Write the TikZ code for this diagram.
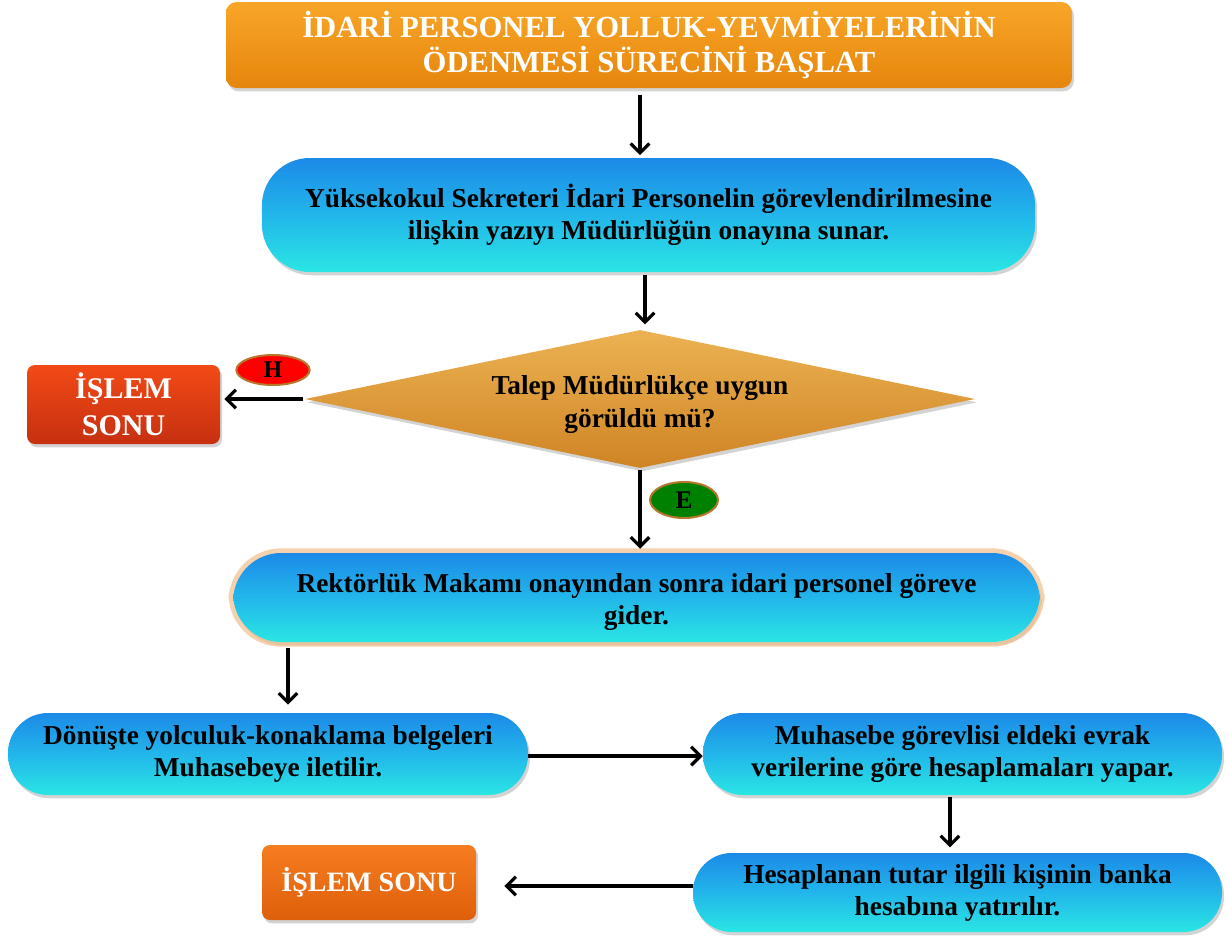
\documentclass[tikz,border=0pt]{standalone}
\usepackage{fontspec}
\setmainfont{Liberation Serif}
\usetikzlibrary{arrows.meta,shapes.geometric,shadows,calc}
\definecolor{titletop}{HTML}{F8A628}
\definecolor{titlebot}{HTML}{E6860C}
\definecolor{pilltop}{HTML}{1C8AE8}
\definecolor{pillmid}{HTML}{22B6EA}
\definecolor{pillbot}{HTML}{2AE6E4}
\definecolor{redtop}{HTML}{F24A16}
\definecolor{redbot}{HTML}{C63010}
\definecolor{ortop}{HTML}{F67C20}
\definecolor{orbot}{HTML}{DE600A}
\definecolor{diatop}{HTML}{ECB252}
\definecolor{diabot}{HTML}{CF8424}
\definecolor{ovalborder}{HTML}{B8782C}
\definecolor{glowc}{HTML}{F2BE8A}
\definecolor{egreen}{HTML}{008000}
\begin{document}
\begin{tikzpicture}[x=0.75pt,y=-0.75pt,
  sh/.style={drop shadow={shadow xshift=1.5pt,shadow yshift=-2.5pt,opacity=0.35}},
  pill/.style={rectangle,rounded corners=36pt,top color=pilltop,bottom color=pillbot,middle color=pillmid,
    sh,align=center,font=\fontsize{20.5}{24}\selectfont\bfseries,text=black,inner sep=0pt},
  endbox/.style={rectangle,rounded corners=6pt,sh,align=center,text=white,inner sep=0pt,
    font=\fontsize{22.5}{28}\selectfont\bfseries},
  oval/.style={ellipse,draw=ovalborder,line width=1.5pt,inner sep=0pt,text=black},
  arr/.style={line width=2.6pt,-{Straight Barb[length=7pt,width=14pt,line width=2.4pt]}}
]
\useasboundingbox (0,0) rectangle (1227,935);

\node[rectangle,rounded corners=8pt,top color=titletop,bottom color=titlebot,sh,
  minimum width=634.5pt,minimum height=64.5pt,align=center,text=white,inner sep=0pt,
  font=\fontsize{23}{26.5}\selectfont\bfseries] (title) at (649,45)
  {İDARİ PERSONEL YOLLUK-YEVMİYELERİNİN\\ÖDENMESİ SÜRECİNİ BAŞLAT};

\node[pill,minimum width=580pt,minimum height=85.5pt] (box2) at (648.5,215)
  {Yüksekokul Sekreteri İdari Personelin görevlendirilmesine\\ilişkin yazıyı Müdürlüğün onayına sunar.};

\node[diamond,aspect=4.85,minimum width=502.5pt,minimum height=103.5pt,inner sep=0pt,
  top color=diatop,bottom color=diabot,sh,align=center,text height=48pt,
  font=\fontsize{20.5}{25}\selectfont\bfseries] (dia) at (640,399)
  {Talep Müdürlükçe uygun\\görüldü mü?};

\node[endbox,top color=redtop,bottom color=redbot,minimum width=144.75pt,minimum height=59.25pt] (end1) at (123.5,404.5)
  {İŞLEM\\SONU};

\node[oval,fill=red,minimum width=55pt,minimum height=22.5pt,font=\fontsize{18}{20}\selectfont\bfseries] (h) at (273,370) {H};
\node[oval,fill=egreen,minimum width=51pt,minimum height=27pt,font=\fontsize{19}{21}\selectfont\bfseries] (e) at (684,500) {E};

\node[pill,minimum width=605pt,minimum height=66.75pt,text height=45.5pt,
  preaction={draw=glowc,line width=7pt,draw opacity=0.7}] (box3) at (636.5,597.5)
  {Rektörlük Makamı onayından sonra idari personel göreve\\gider.};

\node[pill,minimum width=390pt,minimum height=61.5pt,rounded corners=30pt] (box4) at (268,754)
  {Dönüşte yolculuk-konaklama belgeleri\\Muhasebeye iletilir.};

\node[pill,minimum width=389.25pt,minimum height=61.5pt,rounded corners=30pt] (box5) at (962.5,754)
  {Muhasebe görevlisi eldeki evrak\\verilerine göre hesaplamaları yapar.};

\node[pill,minimum width=396.75pt,minimum height=59.25pt,rounded corners=29pt] (box6) at (957.5,892.5)
  {Hesaplanan tutar ilgili kişinin banka\\hesabına yatırılır.};

\node[endbox,top color=ortop,bottom color=orbot,minimum width=160.5pt,minimum height=56.25pt,
  font=\fontsize{21}{27}\selectfont\bfseries] (end2) at (369,882.5)
  {İŞLEM SONU};

% connectors
\draw[arr,shorten <=5pt,shorten >=2pt] ([xshift=-6.75pt]title.south) -- ([xshift=-6.75pt]title.south |- box2.north);
\draw[arr,shorten <=2pt,shorten >=4pt] ([xshift=-2.6pt]box2.south) -- ([xshift=-2.6pt]box2.south |- dia.north);
\draw[arr,shorten <=1pt,shorten >=3pt] (dia.west) -- (dia.west -| end1.east);
\draw[arr,shorten <=1pt,shorten >=3pt] (dia.south) -- (dia.south |- box3.north);
\draw[arr,shorten <=4pt,shorten >=6pt] ([xshift=15pt]box4.north |- box3.south) -- ([xshift=15pt]box4.north);
\draw[arr] ([yshift=-1.5pt]box4.east) -- ([yshift=-1.5pt]box5.west);
\draw[arr,shorten <=1.5pt,shorten >=4pt] ([xshift=-9.4pt]box5.south) -- ([xshift=-9.4pt]box5.south |- box6.north);
\draw[arr,shorten >=21pt] ([yshift=4.9pt]box6.west) -- ([yshift=4.9pt]box6.west -| end2.east);
\end{tikzpicture}
\end{document}
